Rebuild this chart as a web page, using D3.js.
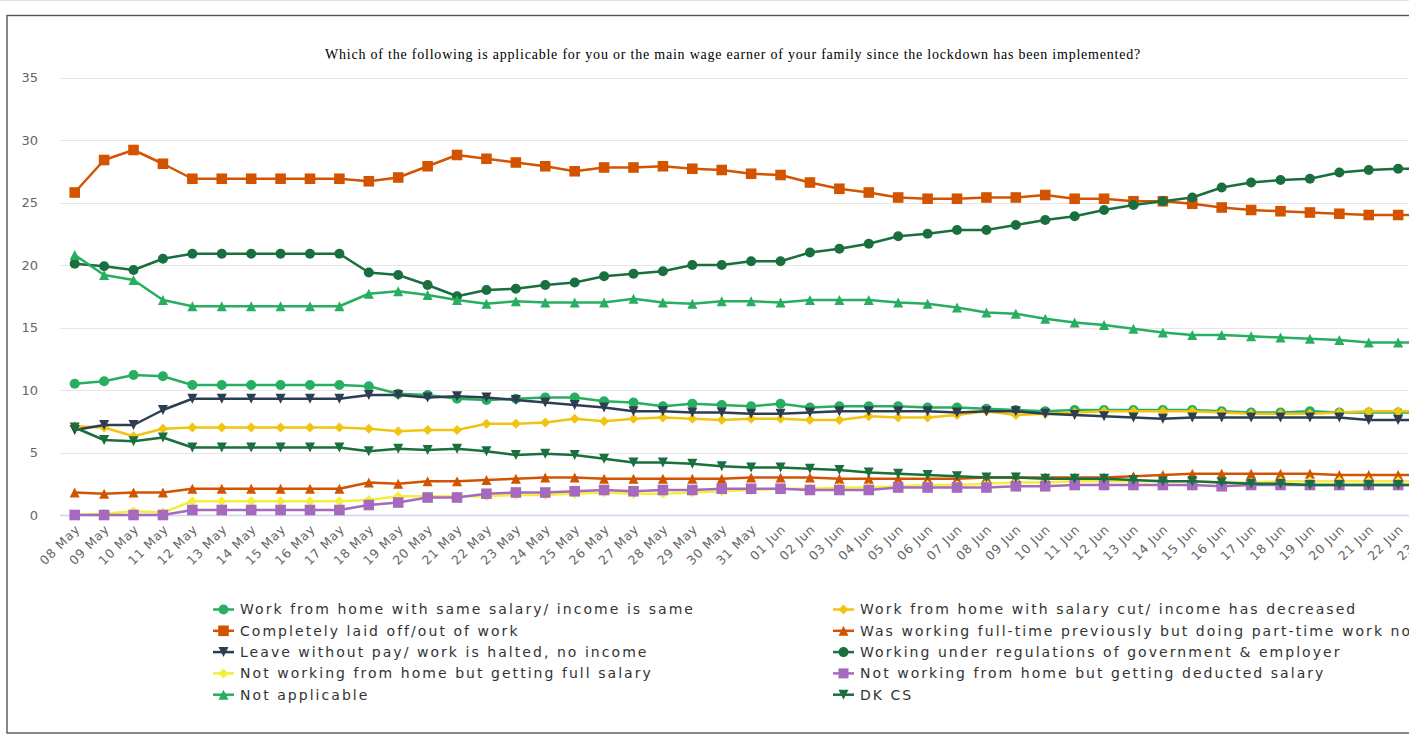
<!DOCTYPE html>
<html><head><meta charset="utf-8">
<script src="https://cdn.jsdelivr.net/npm/d3@7"></script>
<style>
html,body{margin:0;padding:0;background:#fff;overflow:hidden;}
svg{display:block;}
</style></head>
<body>
<svg id="chart" width="1409" height="734"></svg>
<script>
const titleText = "Which of the following is applicable for you or the main wage earner of your family since the lockdown has been implemented?";
const categories = ["08 May","09 May","10 May","11 May","12 May","13 May","14 May","15 May","16 May","17 May","18 May","19 May","20 May","21 May","22 May","23 May","24 May","25 May","26 May","27 May","28 May","29 May","30 May","31 May",
"01 Jun","02 Jun","03 Jun","04 Jun","05 Jun","06 Jun","07 Jun","08 Jun","09 Jun","10 Jun","11 Jun","12 Jun","13 Jun","14 Jun","15 Jun","16 Jun","17 Jun","18 Jun","19 Jun","20 Jun","21 Jun","22 Jun","23 Jun"];
const yTicks = [0,5,10,15,20,25,30,35];

const seriesNames = [
  "Work from home with same salary/ income is same",
  "Work from home with salary cut/ income has decreased",
  "Completely laid off/out of work",
  "Was working full-time previously but doing part-time work now",
  "Leave without pay/ work is halted, no income",
  "Working under regulations of government & employer",
  "Not working from home but getting full salary",
  "Not working from home but getting deducted salary",
  "Not applicable",
  "DK CS"
];
const sameSalary = [10.5,10.7,11.2,11.1,10.4,10.4,10.4,10.4,10.4,10.4,10.3,9.7,9.6,9.3,9.2,9.3,9.4,9.4,9.1,9.0,8.7,8.9,8.8,8.7,
  8.9,8.6,8.7,8.7,8.7,8.6,8.6,8.5,8.4,8.3,8.4,8.4,8.4,8.4,8.4,8.3,8.2,8.2,8.3,8.2,8.2,8.2,8.2];
const salaryCut = [7.1,7.0,6.3,6.9,7.0,7.0,7.0,7.0,7.0,7.0,6.9,6.7,6.8,6.8,7.3,7.3,7.4,7.7,7.5,7.7,7.8,7.7,7.6,7.7,
  7.7,7.6,7.6,7.9,7.8,7.8,8.0,8.3,8.0,8.1,8.2,8.3,8.3,8.3,8.3,8.2,8.1,8.1,8.1,8.2,8.3,8.3,8.3];
const laidOff = [25.8,28.4,29.2,28.1,26.9,26.9,26.9,26.9,26.9,26.9,26.7,27.0,27.9,28.8,28.5,28.2,27.9,27.5,27.8,27.8,27.9,27.7,27.6,27.3,
  27.2,26.6,26.1,25.8,25.4,25.3,25.3,25.4,25.4,25.6,25.3,25.3,25.1,25.1,24.9,24.6,24.4,24.3,24.2,24.1,24.0,24.0,24.0];
const partTime = [1.8,1.7,1.8,1.8,2.1,2.1,2.1,2.1,2.1,2.1,2.6,2.5,2.7,2.7,2.8,2.9,3.0,3.0,2.9,2.9,2.9,2.9,2.9,3.0,
  3.0,3.0,2.9,2.9,2.9,2.9,2.9,3.0,3.0,3.0,3.0,3.0,3.1,3.2,3.3,3.3,3.3,3.3,3.3,3.2,3.2,3.2,3.2];
const leaveNoPay = [6.8,7.2,7.2,8.4,9.3,9.3,9.3,9.3,9.3,9.3,9.6,9.6,9.4,9.5,9.4,9.2,9.0,8.8,8.6,8.3,8.3,8.2,8.2,8.1,
  8.1,8.2,8.3,8.3,8.3,8.3,8.2,8.3,8.3,8.1,8.0,7.9,7.8,7.7,7.8,7.8,7.8,7.8,7.8,7.8,7.6,7.6,7.6];
const regulations = [20.1,19.9,19.6,20.5,20.9,20.9,20.9,20.9,20.9,20.9,19.4,19.2,18.4,17.5,18.0,18.1,18.4,18.6,19.1,19.3,19.5,20.0,20.0,20.3,
  20.3,21.0,21.3,21.7,22.3,22.5,22.8,22.8,23.2,23.6,23.9,24.4,24.8,25.1,25.4,26.2,26.6,26.8,26.9,27.4,27.6,27.7,27.7];
const fullSalary = [0.0,0.1,0.3,0.2,1.1,1.1,1.1,1.1,1.1,1.1,1.2,1.5,1.5,1.5,1.5,1.6,1.6,1.7,1.8,1.7,1.7,1.8,1.9,2.0,
  2.1,2.1,2.2,2.2,2.3,2.4,2.4,2.5,2.6,2.6,2.7,2.7,2.7,2.7,2.7,2.6,2.6,2.7,2.7,2.7,2.7,2.7,2.7];
const deducted = [0.0,0.0,0.0,0.0,0.4,0.4,0.4,0.4,0.4,0.4,0.8,1.0,1.4,1.4,1.7,1.8,1.8,1.9,2.0,1.9,2.0,2.0,2.1,2.1,
  2.1,2.0,2.0,2.0,2.2,2.2,2.2,2.2,2.3,2.3,2.4,2.4,2.4,2.4,2.4,2.3,2.4,2.4,2.4,2.4,2.4,2.4,2.4];
const notApplicable = [20.8,19.2,18.8,17.2,16.7,16.7,16.7,16.7,16.7,16.7,17.7,17.9,17.6,17.2,16.9,17.1,17.0,17.0,17.0,17.3,17.0,16.9,17.1,17.1,
  17.0,17.2,17.2,17.2,17.0,16.9,16.6,16.2,16.1,15.7,15.4,15.2,14.9,14.6,14.4,14.4,14.3,14.2,14.1,14.0,13.8,13.8,13.8];
const dkcs = [7.0,6.0,5.9,6.2,5.4,5.4,5.4,5.4,5.4,5.4,5.1,5.3,5.2,5.3,5.1,4.8,4.9,4.8,4.5,4.2,4.2,4.1,3.9,3.8,
  3.8,3.7,3.6,3.4,3.3,3.2,3.1,3.0,3.0,2.9,2.9,2.9,2.8,2.7,2.7,2.6,2.5,2.5,2.4,2.4,2.4,2.4,2.4];

const seriesValues = [sameSalary, salaryCut, laidOff, partTime, leaveNoPay, regulations, fullSalary, deducted, notApplicable, dkcs];
const seriesColors = ["#27ae60","#f1c40f","#d35400","#d35400","#2c3e50","#196f3d","#f3ef3a","#a569bd","#27ae60","#196f3d"];
const seriesSymbols = ["circle","diamond","square","triangle","triangle-down","circle","diamond","square","triangle","triangle-down"];

const svg = d3.select("#chart");

// outer frame
svg.append("line").attr("x1",0).attr("x2",1409).attr("y1",0.5).attr("y2",0.5).attr("stroke","#e3e3e3").attr("stroke-width",1);
svg.append("rect").attr("x",7).attr("y",15.5).attr("width",1600).attr("height",717.5)
  .attr("fill","#fff").attr("stroke","#555").attr("stroke-width",1.4);

const x = d3.scalePoint().domain(categories).range([60, 60 + 47*29.41]).padding(0.5);
const y = d3.scaleLinear().domain([0,35]).range([515, 77.5]);

// title
const title = svg.append("text").attr("x",733).attr("y",59).attr("text-anchor","middle")
  .attr("font-family","'Liberation Serif','Times New Roman',serif").attr("font-size",14).attr("fill","#000")
  .text(titleText);
{
  const w = title.node().getComputedTextLength();
  const ls = (816 - w) / titleText.length;
  title.attr("letter-spacing", ls);
}

// grid
const grid = svg.append("g");
grid.selectAll("line").data(yTicks.filter(d=>d>0)).join("line")
  .attr("x1",60).attr("x2",1442).attr("y1",d=>Math.round(y(d))+0.5).attr("y2",d=>Math.round(y(d))+0.5)
  .attr("stroke","#e6e6e6").attr("stroke-width",1);
svg.append("line").attr("x1",60).attr("x2",1442).attr("y1",515.5).attr("y2",515.5).attr("stroke","#ccd6eb").attr("stroke-width",1.5);

// y labels
svg.append("g").selectAll("text").data(yTicks).join("text")
  .attr("x",38).attr("y",d=>y(d)).attr("dy","0.35em").attr("text-anchor","end")
  .attr("font-family","'DejaVu Sans',sans-serif").attr("font-size",13).attr("fill","#666")
  .text(d=>d);

// x labels
svg.append("g").selectAll("text").data(categories).join("text")
  .attr("transform",d=>`translate(${x(d)+6},${530}) rotate(-45)`)
  .attr("text-anchor","end")
  .attr("font-family","'DejaVu Sans',sans-serif").attr("font-size",12.5).attr("letter-spacing",0.8).attr("fill","#666")
  .text(d=>d);

function symPath(type, cx, cy, r){
  switch(type){
    case "square": return `M${cx-r},${cy-r}H${cx+r}V${cy+r}H${cx-r}Z`;
    case "diamond": return `M${cx},${cy-r}L${cx+r},${cy}L${cx},${cy+r}L${cx-r},${cy}Z`;
    case "triangle": return `M${cx},${cy-r}L${cx+r},${cy+r}L${cx-r},${cy+r}Z`;
    case "triangle-down": return `M${cx-r},${cy-r}L${cx+r},${cy-r}L${cx},${cy+r}Z`;
    default: return `M${cx-r},${cy}a${r},${r} 0 1,0 ${2*r},0a${r},${r} 0 1,0 ${-2*r},0Z`;
  }
}

const line = d3.line().x((d,i)=>x(categories[i])).y(d=>y(d));
const plot = svg.append("g");
seriesValues.forEach((vals, si)=>{
  const g = plot.append("g");
  g.append("path").attr("d", line(vals)).attr("fill","none").attr("stroke",seriesColors[si])
    .attr("stroke-width",2.5).attr("stroke-linejoin","round").attr("stroke-linecap","round");
  g.selectAll("path.m").data(vals).join("path").attr("class","m")
    .attr("d",(d,i)=>symPath(seriesSymbols[si], x(categories[i]), y(d), seriesSymbols[si]==="square"?5.3:5))
    .attr("fill",seriesColors[si]);
});

// legend
const legend = svg.append("g");
const colX = [213, 833];
const rowY = [609.5, 630.8, 652.1, 673.4, 694.7];
const items = seriesNames.map((n,i)=>({name:n, i, col:i%2, row:Math.floor(i/2)}));
const li = legend.selectAll("g").data(items).join("g")
  .attr("transform",d=>`translate(${colX[d.col]},${rowY[d.row]})`);
li.append("line").attr("x1",0).attr("x2",21).attr("y1",0).attr("y2",0)
  .attr("stroke",d=>seriesColors[d.i]).attr("stroke-width",2.5);
li.append("path").attr("d",d=>symPath(seriesSymbols[d.i],10.5,0,d.i%2===0&&seriesSymbols[d.i]==="square"?5.3:5)).attr("fill",d=>seriesColors[d.i]);
const lt = li.append("text").attr("x",27).attr("dy","0.35em")
  .attr("font-family","'DejaVu Sans',sans-serif").attr("font-size",14).attr("fill","#333")
  .text(d=>d.name);
{
  const w0 = lt.nodes()[0].getComputedTextLength();
  const ls = (455 - w0) / seriesNames[0].length;
  lt.attr("letter-spacing", ls);
}
</script>
</body></html>
